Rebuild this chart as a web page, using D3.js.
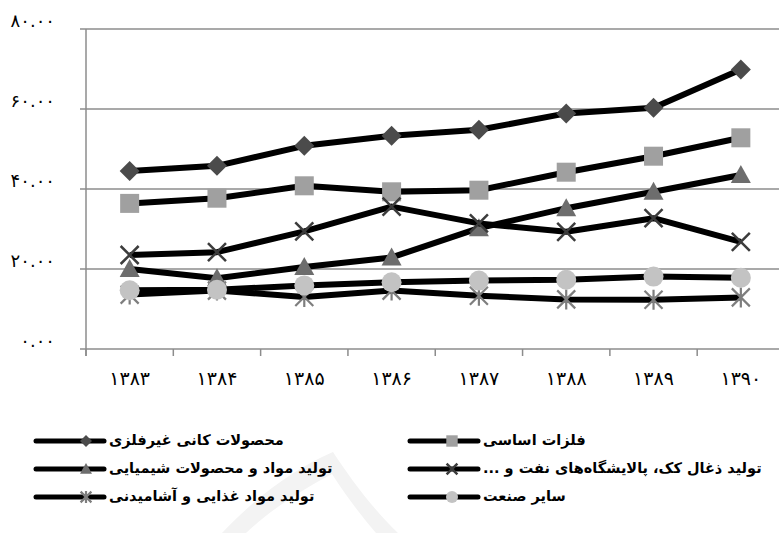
<!DOCTYPE html>
<html lang="fa">
<head>
  <meta charset="UTF-8" />
  <title>Industry shares</title>
  <script src="https://d3js.org/d3.v7.min.js"></script>
  <style>
    body { margin: 0; background: #fff; }
    svg { display: block; font-family: "DejaVu Sans", sans-serif; }
  </style>
</head>
<body>
  <div id="chart"></div>
  <script>
    // data
    const years = ["۱۳۸۳", "۱۳۸۴", "۱۳۸۵", "۱۳۸۶", "۱۳۸۷", "۱۳۸۸", "۱۳۸۹", "۱۳۹۰"];
    const yTicks = [0, 20, 40, 60, 80];
    const yTickLabels = ["۰.۰۰", "۲۰.۰۰", "۴۰.۰۰", "۶۰.۰۰", "۸۰.۰۰"];

    const seriesNames = [
      "محصولات کانی غیرفلزی",
      "فلزات اساسی",
      "تولید مواد و محصولات شیمیایی",
      "تولید ذغال کک، پالایشگاه‌های نفت و ...",
      "تولید مواد غذایی و  آشامیدنی",
      "سایر صنعت"
    ];
    const nonMetallic = [44.5, 45.8, 50.8, 53.3, 54.8, 58.9, 60.3, 69.9];
    const basicMetals = [36.4, 37.7, 40.8, 39.3, 39.7, 44.2, 48.2, 52.8];
    const chemicals   = [20.0, 17.7, 20.5, 22.9, 30.2, 35.2, 39.3, 43.5];
    const cokeOil     = [23.5, 24.2, 29.4, 35.6, 31.4, 29.3, 32.7, 26.8];
    const foodDrink   = [13.6, 14.6, 13.0, 14.6, 13.3, 12.4, 12.3, 12.9];
    const otherInd    = [14.7, 14.8, 15.9, 16.7, 17.1, 17.3, 18.1, 17.8];

    const allValues = [nonMetallic, basicMetals, chemicals, cokeOil, foodDrink, otherInd];
    const markers = ["diamond", "square", "triangle", "x", "star", "circle"];
    const markerColors = ["#4b4b4b", "#a0a0a0", "#6d6d6d", "#3c3c3c", "#7e7e7e", "#c3c3c3"];

    const W = 779, H = 533;
    const svg = d3.select("#chart").append("svg")
      .attr("width", W)
      .attr("height", H);

    // faint watermark behind legend
    svg.append("path")
      .attr("d", "M222,533 C255,498 295,468 333,452 C350,478 372,508 398,533 L376,533 C358,512 345,494 332,474 C298,492 268,512 246,533 Z")
      .attr("fill", "#f3f3f3");

    const x = d3.scaleBand().domain(years).range([86, 784.5]).padding(0);
    const y = d3.scaleLinear().domain([0, 80]).range([349, 29]);

    const grid = "#8c8c8c";

    // gridlines
    svg.selectAll(".grid").data(yTicks).enter().append("line")
      .attr("x1", 80).attr("x2", W)
      .attr("y1", d => y(d)).attr("y2", d => y(d))
      .attr("stroke", grid).attr("stroke-width", 1.5);

    svg.selectAll(".ylab").data(yTicks).enter().append("text")
      .attr("x", 55)
      .attr("y", d => y(d) - 7)
      .attr("text-anchor", "end")
      .attr("dominant-baseline", "middle")
      .style("font-size", "18px")
      .text((d, i) => yTickLabels[i]);

    // y axis line
    svg.append("line")
      .attr("x1", 86).attr("x2", 86)
      .attr("y1", y(80)).attr("y2", y(0) + 7)
      .attr("stroke", grid).attr("stroke-width", 1.5);

    // x ticks at band edges
    const edges = years.map(d => x(d)).concat([x(years[years.length - 1]) + x.bandwidth()]);
    svg.selectAll(".xtick").data(edges).enter().append("line")
      .attr("x1", d => d).attr("x2", d => d)
      .attr("y1", y(0)).attr("y2", y(0) + 7)
      .attr("stroke", grid).attr("stroke-width", 1.5);

    svg.selectAll(".xlab").data(years).enter().append("text")
      .attr("x", d => x(d) + x.bandwidth() / 2)
      .attr("y", 379)
      .attr("text-anchor", "middle")
      .attr("dominant-baseline", "middle")
      .style("font-size", "19px")
      .text(d => d);

    function drawMarker(g, type, cx, cy, s, color) {
      const h = s / 2;
      if (type === "diamond") {
        g.append("path")
          .attr("d", `M${cx},${cy - h}L${cx + h},${cy}L${cx},${cy + h}L${cx - h},${cy}Z`)
          .attr("fill", color);
      } else if (type === "square") {
        g.append("rect")
          .attr("x", cx - h * 0.95).attr("y", cy - h * 0.95)
          .attr("width", s * 0.95).attr("height", s * 0.95)
          .attr("fill", color);
      } else if (type === "triangle") {
        g.append("path")
          .attr("d", `M${cx},${cy - h}L${cx + h},${cy + h * 0.8}L${cx - h},${cy + h * 0.8}Z`)
          .attr("fill", color);
      } else if (type === "circle") {
        g.append("circle")
          .attr("cx", cx).attr("cy", cy).attr("r", h)
          .attr("fill", color);
      } else if (type === "x" || type === "star") {
        const k = h * 0.9;
        g.append("path")
          .attr("d", `M${cx - k},${cy - k}L${cx + k},${cy + k}M${cx - k},${cy + k}L${cx + k},${cy - k}` +
            (type === "star" ? `M${cx},${cy - h}L${cx},${cy + h}` : ""))
          .attr("stroke", color)
          .attr("stroke-width", type === "x" ? 2.5 : 2.2)
          .attr("fill", "none");
      }
    }

    const line = d3.line()
      .x((d, i) => x(years[i]) + x.bandwidth() / 2)
      .y(d => y(d));

    allValues.forEach((vals, si) => {
      const g = svg.append("g");
      g.append("path")
        .datum(vals)
        .attr("d", line)
        .attr("fill", "none")
        .attr("stroke", "#000")
        .attr("stroke-width", 6)
        .attr("stroke-linejoin", "round");
      vals.forEach((v, i) => {
        drawMarker(g, markers[si], x(years[i]) + x.bandwidth() / 2, y(v), 20, markerColors[si]);
      });
    });

    // legend
    const legCols = [{ x0: 36, x1: 104, m: 86 }, { x0: 410, x1: 478, m: 452 }];
    const legRows = [441, 469, 497];
    seriesNames.forEach((name, i) => {
      const col = legCols[i % 2];
      const ry = legRows[Math.floor(i / 2)];
      const g = svg.append("g");
      g.append("line")
        .attr("x1", col.x0).attr("x2", col.x1)
        .attr("y1", ry).attr("y2", ry)
        .attr("stroke", "#000").attr("stroke-width", 5)
        .attr("stroke-linecap", "round");
      drawMarker(g, markers[i], col.m, ry, 12, markerColors[i]);
      g.append("text")
        .attr("x", col.x1 + 5)
        .attr("y", ry)
        .attr("direction", "rtl")
        .attr("text-anchor", "end")
        .attr("dominant-baseline", "middle")
        .style("font-size", "14.5px")
        .style("font-weight", "bold")
        .text(name);
    });
  </script>
</body>
</html>
